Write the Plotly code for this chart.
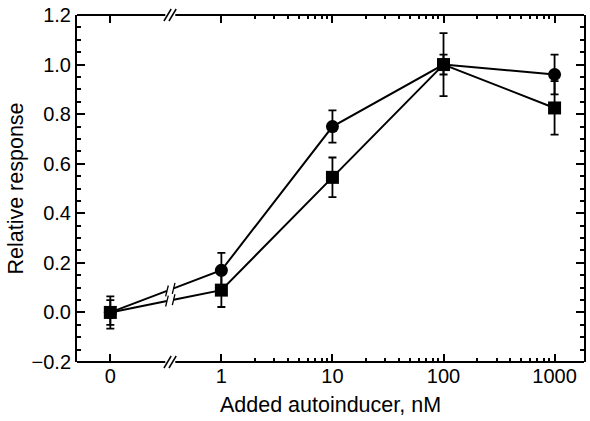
import numpy as np
import plotly.graph_objects as go

# ---- data ----
conc_labels = ["0", "1", "10", "100", "1000"]
conc_pos = [0, 1, 2, 3, 4]          # axis position: 0 then log10(c)+1
circle_vals = [0.0, 0.17, 0.75, 1.00, 0.96]
circle_err = [0.065, 0.07, 0.065, 0.04, 0.08]
square_vals = [0.0, 0.09, 0.545, 1.00, 0.825]
square_err = [0.05, 0.068, 0.08, 0.127, 0.108]
y_ticks = [-0.2, 0.0, 0.2, 0.4, 0.6, 0.8, 1.0, 1.2]

BREAK_U = 0.54
GAP = 0.03
XR = [-0.30, 4.265]
YR = [-0.2, 1.2]

W, H = 590, 421
ML, MR, MT, MB = 77, 4, 15, 59
PW = W - ML - MR
PH = H - MT - MB

fig = go.Figure()


def series(vals, errs, symbol, size):
    y0, y1 = vals[0], vals[1]
    def yat(u):
        return y0 + (y1 - y0) * u
    xs = [conc_pos[0], BREAK_U - GAP, None, BREAK_U + GAP] + conc_pos[1:]
    ys = [y0, yat(BREAK_U - GAP), None, yat(BREAK_U + GAP)] + vals[1:]
    fig.add_trace(go.Scatter(x=xs, y=ys, mode="lines",
                             line=dict(color="black", width=2),
                             hoverinfo="skip", showlegend=False))
    fig.add_trace(go.Scatter(x=conc_pos, y=vals, mode="markers",
                             marker=dict(symbol=symbol, size=size, color="black"),
                             error_y=dict(type="data", array=errs, visible=True,
                                          color="black", thickness=1.8, width=4),
                             showlegend=False))
    # small break slashes on the data line
    for u in (BREAK_U - GAP, BREAK_U + GAP):
        yy = yat(u)
        fig.add_shape(type="line", xref="x", yref="y",
                      x0=u - 0.012, x1=u + 0.012,
                      y0=yy - 0.022, y1=yy + 0.022,
                      line=dict(color="black", width=1.3))


series(circle_vals, circle_err, "circle", 13)
series(square_vals, square_err, "square", 13)

# top & bottom axis lines with break marks
for yp in (0, 1):
    for (a, b) in ((XR[0], BREAK_U - 0.045), (BREAK_U + 0.045, XR[1])):
        fig.add_shape(type="line", xref="x", yref="paper", x0=a, x1=b, y0=yp, y1=yp,
                      line=dict(color="black", width=2))
    for u in (BREAK_U - 0.045, BREAK_U + 0.0):
        fig.add_shape(type="line", xref="x", yref="paper",
                      x0=u - 0.012, x1=u + 0.053,
                      y0=yp - 6 / PH, y1=yp + 6 / PH,
                      line=dict(color="black", width=1.5))

minor_x = []
for d in range(1, 4):
    for k in range(2, 10):
        minor_x.append(d + np.log10(k))

FONT = "Liberation Sans, Arial, Helvetica, sans-serif"

fig.update_layout(
    width=W, height=H,
    margin=dict(l=ML, r=MR, t=MT, b=MB),
    paper_bgcolor="white", plot_bgcolor="white",
    font=dict(family=FONT, size=20, color="black"),
    xaxis=dict(range=XR, showgrid=False, zeroline=False, showline=False,
               tickmode="array", tickvals=conc_pos, ticktext=conc_labels,
               ticks="inside", ticklen=8, tickwidth=1.5, tickcolor="black",
               mirror="ticks",
               minor=dict(tickmode="array", tickvals=minor_x, ticks="inside",
                          ticklen=4, tickwidth=1.5, tickcolor="black"),
               title=dict(text="Added autoinducer, nM", standoff=10,
                          font=dict(size=21.5)),
               tickfont=dict(size=20)),
    yaxis=dict(range=YR, showgrid=False, zeroline=False, showline=True,
               linecolor="black", linewidth=2, mirror="ticks",
               tickmode="array", tickvals=y_ticks,
               ticktext=[f"{v:.1f}".replace("-", "\u2212") for v in y_ticks],
               ticks="inside", ticklen=8, tickwidth=1.5, tickcolor="black",
               minor=dict(dtick=0.05, tick0=0, ticks="inside", ticklen=4,
                          tickwidth=1.5, tickcolor="black"),
               title=dict(text="Relative response", standoff=2,
                          font=dict(size=21.5)),
               tickfont=dict(size=20)),
)

fig.write_html("out.html")
